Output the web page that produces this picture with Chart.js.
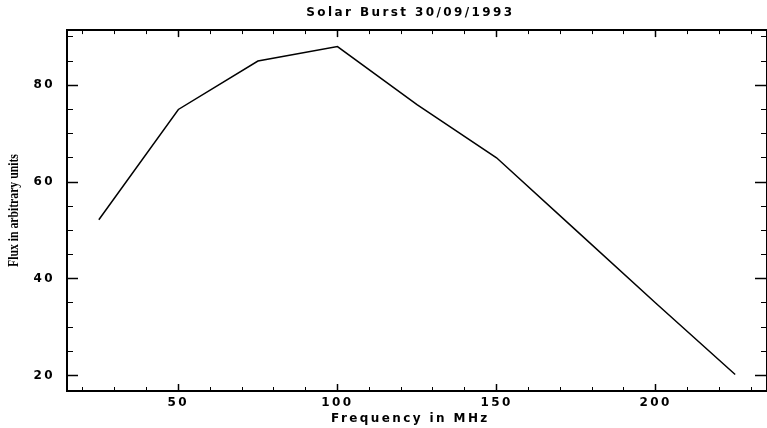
<!DOCTYPE html>
<html>
<head>
<meta charset="utf-8">
<script src="https://cdn.jsdelivr.net/npm/chart.js@4.4.1/dist/chart.umd.min.js"></script>
<style>
  html, body { margin: 0; padding: 0; background: #ffffff; }
  #wrap { width: 767px; height: 428px; position: relative; }
</style>
</head>
<body>
<div id="wrap"><canvas id="c"></canvas></div>
<script>
// ---- data ----
const chartTitle = 'Solar Burst 30/09/1993';
const xAxisTitle = 'Frequency in MHz';
const yAxisTitle = 'Flux in arbitrary units';

const frequencies = [25, 50, 75, 100, 125, 150, 175, 200, 225];
const fluxValues  = [52.2, 75, 85, 88, 76, 65, 50, 35, 20.2];

const xRange = [15, 235];
const yRange = [16.8, 91.4];

const xMajorTicks = [50, 100, 150, 200];
const xMinorStep = 10;
const yMajorTicks = [20, 40, 60, 80];
const yMinorStep = 5;

// ---- helpers ----
function tickValues(min, max, step) {
  const out = [];
  for (let v = Math.ceil(min / step) * step; v <= max + 1e-9; v += step) out.push(v);
  return out;
}
const xTicks = tickValues(xRange[0], xRange[1], xMinorStep);
const yTicks = tickValues(yRange[0], yRange[1], yMinorStep);
const isXMajor = v => xMajorTicks.includes(v);
const isYMajor = v => yMajorTicks.includes(v);

const TXT = '#000000';
const labelFont = { family: 'DejaVu Sans', weight: 'bold', size: 12 };
const SPACING = '2.4px';
const NB = '\u00a0\u00a0';

// inward tick marks: majors full length, minors shortened with a dash pattern
function gridFor(isMajor, majorLen, minorLen, startsInside) {
  const L = majorLen + 1;
  const m = minorLen + 1;
  return {
    drawOnChartArea: false,
    drawTicks: true,
    tickLength: -majorLen,
    tickColor: '#000',
    tickWidth: c => (c.tick && isMajor(c.tick.value)) ? 1.5 : 1,
    tickBorderDash: c => (c.tick && !isMajor(c.tick.value)) ? [m, 400] : [],
    tickBorderDashOffset: c => (c.tick && !isMajor(c.tick.value) && startsInside) ? (400 + 2 * m - L) : 0
  };
}
const border = { display: true, color: '#000', width: 2 };

const points = frequencies.map((f, i) => ({ x: f, y: fluxValues[i] }));

const textPlugin = {
  id: 'textLook',
  beforeLayout(chart) { chart.ctx.letterSpacing = SPACING; },
  beforeDraw(chart) { chart.ctx.letterSpacing = SPACING; },
  afterDraw(chart) {
    const ctx = chart.ctx;
    const a = chart.chartArea;
    ctx.save();
    ctx.letterSpacing = '0px';
    ctx.translate(14.5, (a.top + a.bottom) / 2);
    ctx.rotate(-Math.PI / 2);
    ctx.scale(0.78, 1);
    ctx.font = 'bold 15px "Liberation Serif"';
    ctx.fillStyle = TXT;
    ctx.textAlign = 'center';
    ctx.textBaseline = 'middle';
    ctx.fillText(yAxisTitle, 0, 0);
    ctx.restore();
  }
};

new Chart(document.getElementById('c'), {
  type: 'line',
  data: {
    datasets: [{
      data: points,
      borderColor: '#000',
      borderWidth: 1.5,
      pointRadius: 0,
      tension: 0,
      fill: false
    }]
  },
  options: {
    responsive: true,
    maintainAspectRatio: false,
    devicePixelRatio: 1,
    animation: false,
    layout: { padding: 0 },
    plugins: {
      legend: { display: false },
      tooltip: { enabled: false },
      title: {
        display: true,
        text: chartTitle + NB,
        fullSize: false,
        color: TXT,
        font: labelFont,
        padding: { top: 5.8, bottom: 30 - 5.8 - 14.4 }
      }
    },
    scales: {
      x: {
        type: 'linear', position: 'bottom',
        min: xRange[0], max: xRange[1],
        afterBuildTicks: s => { s.ticks = xTicks.map(v => ({ value: v })); },
        afterFit: s => { s.height = 37; },
        ticks: {
          autoSkip: false, maxRotation: 0, color: TXT, font: labelFont, padding: 11.8,
          callback: v => isXMajor(v) ? String(v) : ''
        },
        grid: gridFor(isXMajor, 7, 4, false),
        border,
        title: { display: true, text: xAxisTitle + NB, color: TXT, font: labelFont, padding: { top: 0, bottom: 1.8 } }
      },
      x2: {
        type: 'linear', position: 'top',
        min: xRange[0], max: xRange[1],
        afterBuildTicks: s => { s.ticks = xTicks.map(v => ({ value: v })); },
        afterFit: s => { s.height = 0; },
        ticks: { display: false },
        grid: gridFor(isXMajor, 7, 4, true),
        border
      },
      y: {
        type: 'linear', position: 'left',
        min: yRange[0], max: yRange[1],
        afterBuildTicks: s => { s.ticks = yTicks.map(v => ({ value: v })); },
        afterFit: s => { s.width = 67; },
        ticks: {
          autoSkip: false, color: TXT, font: labelFont, padding: 22.9,
          callback: v => isYMajor(v) ? String(v) : ''
        },
        grid: gridFor(isYMajor, 11, 6, true),
        border
      },
      y2: {
        type: 'linear', position: 'right',
        min: yRange[0], max: yRange[1],
        afterBuildTicks: s => { s.ticks = yTicks.map(v => ({ value: v })); },
        afterFit: s => { s.width = 0; },
        ticks: { display: false },
        grid: gridFor(isYMajor, 12, 6, false),
        border
      }
    }
  },
  plugins: [textPlugin]
});
</script>
</body>
</html>
